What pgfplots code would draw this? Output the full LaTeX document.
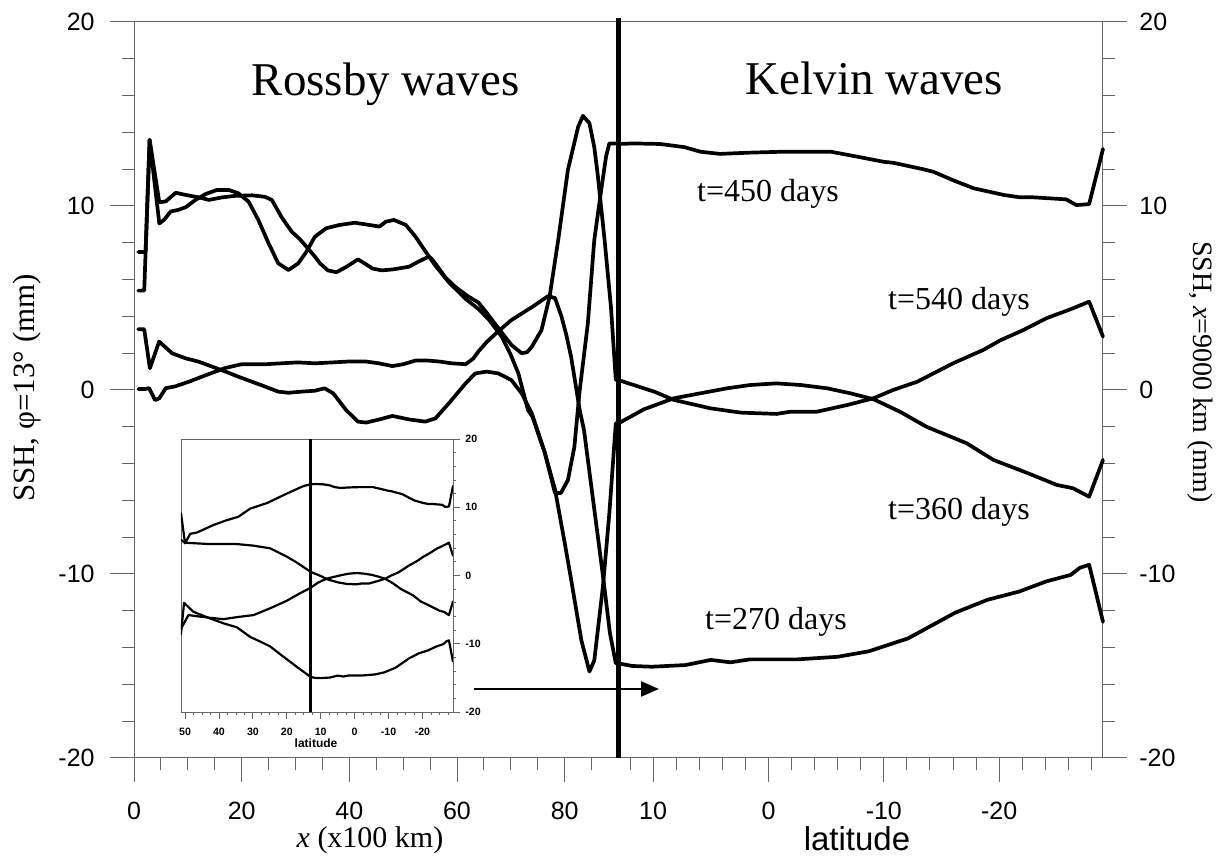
\documentclass[border=0pt]{standalone}
\usepackage{fontspec}
\setmainfont{Liberation Serif}
\newfontfamily\arial{Liberation Sans}
\usepackage{pgfplots}
\pgfplotsset{compat=1.18}
\usepackage{pgfplotstable}
\usetikzlibrary{arrows.meta}

% ---------- left panel (Rossby), x in 100 km ----------
\pgfplotstableread{
x y
0.8 0.05
2.0 0.05
2.8 0.1
3.9 -0.55
4.7 -0.45
5.9 0.1
7.7 0.2
10.2 0.45
13.3 0.8
17.0 1.2
20.0 1.4
24.4 1.4
30.4 1.5
33.6 1.45
37.0 1.5
40.0 1.55
43.0 1.55
45.5 1.45
48.0 1.3
50.0 1.4
52.3 1.6
54.5 1.6
56.6 1.55
59.0 1.45
61.6 1.4
63.0 1.7
64.0 2.1
65.5 2.6
67.7 3.2
70.1 3.8
73.9 4.5
76.9 5.1
78.2 5.0
79.4 4.0
80.3 3.0
81.2 1.8
82.8 -1.1
83.6 -2.2
84.8 -4.9
86.0 -7.6
87.2 -10.3
88.4 -13.2
89.5 -14.86
}\LA
\pgfplotstableread{
x y
0.8 7.5
2.15 7.5
2.9 13.6
4.7 10.2
5.9 10.25
7.75 10.72
9.6 10.6
12.0 10.47
13.9 10.33
16.4 10.47
18.8 10.55
21.9 10.58
24.3 10.5
25.6 10.33
27.4 9.4
29.3 8.6
30.8 8.2
32.0 7.8
33.6 7.25
34.5 6.9
36.0 6.5
37.6 6.4
39.5 6.7
41.6 7.1
43.0 6.85
44.3 6.6
46.0 6.5
48.0 6.55
51.1 6.7
53.0 7.0
54.8 7.25
56.0 6.75
58.5 5.85
61.6 4.95
64.0 4.4
66.0 3.8
68.3 2.9
70.0 1.9
71.4 0.9
73.2 -1.1
74.0 -1.45
76.3 -3.4
78.2 -5.4
80.0 -8.3
81.2 -10.3
83.1 -13.6
84.6 -15.3
85.5 -14.7
87.1 -10.7
88.3 -6.7
89.5 -1.8
}\LB
\pgfplotstableread{
x y
0.8 3.3
1.9 3.3
2.95 1.18
4.67 2.63
7.1 1.99
9.6 1.72
12.0 1.54
14.5 1.27
17.0 1.0
19.4 0.72
21.9 0.45
24.4 0.18
26.8 -0.09
28.7 -0.15
31.1 -0.09
33.6 -0.04
35.4 0.09
37.0 -0.18
39.4 -1.09
41.6 -1.72
43.1 -1.77
45.6 -1.6
48.0 -1.41
51.1 -1.6
54.1 -1.72
56.0 -1.54
58.5 -0.72
61.6 0.36
63.4 0.9
65.5 1.0
67.7 0.9
70.1 0.54
72.0 -0.18
73.9 -1.27
76.3 -3.4
78.2 -5.6
79.3 -5.6
80.6 -4.9
81.8 -3.1
82.5 -0.9
82.8 0.0
84.3 3.6
85.5 8.15
86.8 10.9
87.7 12.7
88.3 13.4
89.5 13.4
}\LC
\pgfplotstableread{
x y
0.8 5.4
1.9 5.4
2.9 13.6
4.7 9.05
5.6 9.25
6.8 9.7
8.1 9.78
9.6 9.93
11.4 10.33
13.3 10.65
15.4 10.87
17.6 10.87
19.4 10.69
21.3 10.23
23.1 9.24
25.0 7.97
26.8 6.88
28.7 6.52
30.5 6.88
32.0 7.5
33.6 8.33
35.7 8.79
38.2 8.97
41.0 9.09
43.7 8.97
45.6 8.88
46.8 9.15
48.3 9.24
50.5 8.97
52.3 8.33
54.8 7.25
55.4 7.1
57.9 6.1
59.7 5.6
62.0 5.1
64.0 4.75
65.5 4.2
67.7 3.35
70.1 2.45
72.0 2.0
73.0 2.05
73.9 2.35
75.7 3.26
77.2 5.07
78.8 8.15
80.6 11.96
82.5 14.3
83.4 14.9
84.6 14.5
85.5 13.2
86.1 11.8
87.4 8.2
88.6 4.5
89.5 0.54
}\LD

% ---------- right panel (Kelvin), latitude ----------
\pgfplotstableread{
x y
13 -14.86
11.8 -15.0
10.1 -15.04
7.2 -14.95
5.0 -14.67
3.3 -14.8
1.6 -14.64
-2.5 -14.64
-6.0 -14.5
-8.7 -14.2
-12.1 -13.5
-16.2 -12.1
-19.0 -11.4
-21.7 -10.96
-24.1 -10.4
-26.2 -10.05
-27.0 -9.66
-27.8 -9.5
-29 -12.6
}\RA
\pgfplotstableread{
x y
13 -1.81
10.8 -1.05
8.2 -0.45
5.9 -0.18
3.6 0.09
1.6 0.27
-0.7 0.36
-2.8 0.27
-5.1 0.09
-7.1 -0.18
-9.1 -0.5
-11.4 -1.18
-13.7 -2.0
-17.2 -2.9
-19.5 -3.8
-22.4 -4.5
-25.0 -5.16
-26.4 -5.34
-27.8 -5.8
-29 -3.8
}\RB
\pgfplotstableread{
x y
13 13.37
11.7 13.4
9.4 13.37
7.3 13.2
5.9 12.95
4.2 12.83
1.6 12.9
-1.3 12.95
-5.4 12.95
-7.7 12.68
-10.0 12.4
-10.8 12.35
-13.4 12.0
-14.3 11.86
-16.0 11.4
-17.8 10.96
-20.4 10.6
-21.8 10.47
-23.0 10.47
-25.8 10.36
-26.7 10.05
-27.8 10.1
-29 13.1
}\RC
\pgfplotstableread{
x y
13 0.54
10.8 0.09
9.9 -0.09
8.2 -0.54
5.0 -1.0
2.4 -1.23
-0.7 -1.3
-1.9 -1.18
-4.2 -1.18
-6.8 -0.82
-9.1 -0.45
-10.8 0.0
-12.9 0.45
-14.3 0.9
-16.0 1.45
-18.6 2.17
-20.1 2.7
-22.1 3.26
-24.1 3.9
-26.4 4.44
-27.8 4.8
-29 2.9
}\RD

% ---------- inset, northern part (51 to 13 deg) ----------
\pgfplotstableread{
x y
51.2 -8.6
50.3 -4.0
47.6 -5.3
42.6 -6.3
38.7 -7.0
34.7 -7.6
30.8 -9.0
26.9 -9.9
24.9 -10.4
21.0 -11.9
17.0 -13.4
13 -14.86
}\NA
\pgfplotstableread{
x y
51.2 -7.8
49.0 -5.8
46.0 -6.0
42.6 -6.2
38.7 -6.4
34.7 -6.1
29.8 -5.8
24.9 -4.8
20.0 -3.7
16.1 -2.6
13 -1.81
}\NB
\pgfplotstableread{
x y
51.2 9.1
50.0 4.7
48.5 6.1
46.5 6.3
41.6 7.4
37.7 8.1
34.3 8.6
30.8 9.8
25.9 10.6
20.0 12.0
15.1 13.1
13 13.37
}\NC
\pgfplotstableread{
x y
51.2 5.2
50.0 4.8
42.6 4.6
34.7 4.6
29.8 4.37
24.9 3.98
20.0 2.76
17.0 1.88
13 0.54
}\ND

\pgfplotsset{
  mainaxis/.style={
    scale only axis, anchor=south west, width=242.25pt, height=368pt,
    ymin=-20, ymax=20,
    axis line style={draw=none},
    tick align=outside, major tick length=12pt, minor tick length=5.8pt,
    every tick/.style={gray!80!black, line width=0.5pt},
    tick label style={font=\arial\fontsize{12.5}{14}\selectfont, inner sep=0pt},
    xticklabel style={anchor=north, yshift=-10pt},
    ytick={-20,-10,0,10,20}, yticklabels={-20,-10,0,10,20},
    minor ytick={-18,-16,-14,-12,-8,-6,-4,-2,2,4,6,8,12,14,16,18},
    xtick pos=left, clip=false,
  },
  curve/.style={black, line width=1.85pt, line join=round, line cap=round, mark=none},
  icurve/.style={black, line width=1.1pt, line join=round, line cap=round, mark=none},
}

\begin{document}
\begin{tikzpicture}
\useasboundingbox (0,0) rectangle (608.5pt,430.5pt);

% left panel
\begin{axis}[mainaxis, at={(67pt,51.5pt)}, xmin=0, xmax=90, ytick pos=left,
  xtick={0,20,40,60,80}, xticklabels={0,20,40,60,80},
  minor xtick={5,10,15,25,30,35,45,50,55,65,70,75,85},
  yticklabel style={anchor=east, xshift=-7.5pt}]
  \draw[gray!80!black, line width=0.5pt] (axis cs:90,20) -- (axis cs:0,20) -- (axis cs:0,-20) -- (axis cs:90,-20);
  \addplot[curve] table {\LA};
  \addplot[curve] table {\LB};
  \addplot[curve] table {\LC};
  \addplot[curve] table {\LD};
\end{axis}

% right panel
\begin{axis}[mainaxis, at={(309.25pt,51.5pt)}, xmin=-29, xmax=13, x dir=reverse, ytick pos=right,
  xtick={10,0,-10,-20}, xticklabels={10,0,-10,-20},
  minor xtick={12,8,6,4,2,-2,-4,-6,-8,-12,-14,-16,-18,-22,-24,-26,-28},
  yticklabel style={anchor=west, xshift=6pt}]
  \draw[gray!80!black, line width=0.5pt] (axis cs:13,20) -- (axis cs:-29,20) -- (axis cs:-29,-20) -- (axis cs:13,-20);
  \addplot[curve] table {\RA};
  \addplot[curve] table {\RB};
  \addplot[curve] table {\RC};
  \addplot[curve] table {\RD};
  \draw[black, line width=2.5pt] (axis cs:13,-20) -- (axis cs:13,20.2);
\end{axis}

% inset
\begin{axis}[at={(90.5pt,74.5pt)}, anchor=south west, scale only axis,
  width=136pt, height=136.5pt, xmin=-29, xmax=51.2, x dir=reverse, ymin=-20, ymax=20,
  axis line style={gray!80!black, line width=0.4pt},
  tick align=outside, major tick length=3.3pt, minor tick length=1.7pt,
  every tick/.style={gray!80!black, line width=0.4pt},
  ytick pos=right, xtick pos=left,
  ytick={-20,-10,0,10,20}, yticklabels={-20,-10,0,10,20},
  minor ytick={-18,-16,-14,-12,-8,-6,-4,-2,2,4,6,8,12,14,16,18},
  xtick={50,40,30,20,10,0,-10,-20}, xticklabels={50,40,30,20,10,0,-10,-20},
  minor xtick={47.5,45,42.5,37.5,35,32.5,27.5,25,22.5,17.5,15,12.5,7.5,5,2.5,-2.5,-5,-7.5,-12.5,-15,-17.5,-22.5,-25,-27.5},
  tick label style={font=\arial\bfseries\fontsize{5.3}{6}\selectfont, inner sep=0pt},
  xticklabel style={anchor=north, yshift=-4.5pt},
  yticklabel style={anchor=west, xshift=2.7pt}]
  \addplot[icurve] table {\NA};
  \addplot[icurve] table {\RA};
  \addplot[icurve] table {\NB};
  \addplot[icurve] table {\RB};
  \addplot[icurve] table {\NC};
  \addplot[icurve] table {\RC};
  \addplot[icurve] table {\ND};
  \addplot[icurve] table {\RD};
  \draw[black, line width=1.1pt] (axis cs:13,-20) -- (axis cs:13,20);
\end{axis}

% arrow
\draw[black, line width=1.15pt, -{Triangle[length=9pt,width=7.5pt]}] (237pt,86pt) -- (329.5pt,86pt);

% texts
\node[font=\fontsize{23.5}{28}\selectfont, anchor=base, inner sep=0pt] at (192.75pt,382.5pt) {Rossby waves};
\node[font=\fontsize{23.5}{28}\selectfont, anchor=base, inner sep=0pt] at (437.25pt,383pt) {Kelvin waves};
\node[font=\fontsize{16}{19}\selectfont, anchor=base, inner sep=0pt] at (384pt,329.5pt) {t=450 days};
\node[font=\fontsize{16}{19}\selectfont, anchor=base, inner sep=0pt] at (479.5pt,275.5pt) {t=540 days};
\node[font=\fontsize{16}{19}\selectfont, anchor=base, inner sep=0pt] at (479.5pt,170.5pt) {t=360 days};
\node[font=\fontsize{16}{19}\selectfont, anchor=base, inner sep=0pt] at (388pt,115.5pt) {t=270 days};
\node[rotate=90, font=\fontsize{15.5}{18}\selectfont, inner sep=0pt] at (13.5pt,236.5pt) {SSH, φ=13° (mm)};
\node[rotate=-90, font=\fontsize{14}{17}\selectfont, inner sep=0pt] at (600.3pt,244.5pt) {SSH, \textit{x}=9000 km (mm)};
\node[font=\fontsize{15}{18}\selectfont, inner sep=0pt] at (185pt,10.5pt) {\textit{x} (x100 km)};
\node[font=\arial\fontsize{16.5}{20}\selectfont, anchor=base, inner sep=0pt] at (428.5pt,5pt) {latitude};
\node[font=\arial\bfseries\fontsize{6}{7}\selectfont, inner sep=0pt] at (158pt,59pt) {latitude};
\end{tikzpicture}
\end{document}
